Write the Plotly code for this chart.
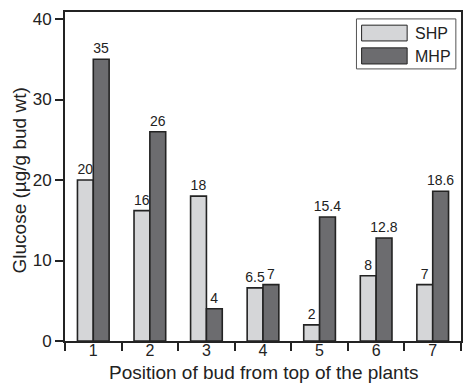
import plotly.graph_objects as go

positions = ["1", "2", "3", "4", "5", "6", "7"]
series_names = ["SHP", "MHP"]
shp_values = [20, 16.2, 18, 6.6, 2, 8.1, 7]
shp_labels = ["20", "16", "18", "6.5", "2", "8", "7"]
mhp_values = [35, 26, 4, 7, 15.4, 12.8, 18.6]
mhp_labels = ["35", "26", "4", "7", "15.4", "12.8", "18.6"]
y_ticks = [0, 10, 20, 30, 40]

FONT = "Liberation Sans, Arial, sans-serif"
LINE = "#232323"
COLORS = ["#d5d6d8", "#6c6c6f"]

fig = go.Figure()
for name, vals, labs, col in zip(series_names, [shp_values, mhp_values],
                                 [shp_labels, mhp_labels], COLORS):
    fig.add_bar(x=positions, y=vals, name=name, text=labs,
                textposition="outside", cliponaxis=False, constraintext="none",
                textfont=dict(size=14, color="#222"),
                marker=dict(color=col, line=dict(color=LINE, width=1.6)),
                showlegend=False)

fig.update_layout(
    width=465, height=385,
    margin=dict(l=65, r=2, t=12, b=44),
    paper_bgcolor="white", plot_bgcolor="white",
    barmode="group", bargap=0.44, bargroupgap=0,
    font=dict(family=FONT, color="#222"),
)
fig.update_xaxes(
    type="category", range=[-0.5, 6.5],
    showline=True, linecolor=LINE, linewidth=2, mirror=True,
    ticks="outside", tickson="boundaries", ticklen=8, tickwidth=1.5, tickcolor=LINE,
    tickfont=dict(size=16), ticklabelstandoff=-6, showgrid=False,
)
fig.update_yaxes(
    range=[0, 40.87], tickvals=y_ticks,
    showline=True, linecolor=LINE, linewidth=2, mirror=True,
    ticks="outside", ticklen=8, tickwidth=1.5, tickcolor=LINE,
    tickfont=dict(size=17), showgrid=False, zeroline=False,
)

# axis titles
fig.add_annotation(text="Position of bud from top of the plants", xref="paper", yref="paper",
                   x=0.5, y=0, xanchor="center", yanchor="bottom", yshift=-44,
                   showarrow=False, font=dict(size=19))
fig.add_annotation(text="Glucose (µg/g bud wt)", xref="paper", yref="paper",
                   x=0, y=0.5, xanchor="center", yanchor="middle", xshift=-46, yshift=-4,
                   textangle=-90, showarrow=False, font=dict(size=19))

# legend box with wide swatches
fig.add_shape(type="rect", xref="paper", yref="paper", x0=0.736, x1=0.987, y0=0.827, y1=0.979,
              line=dict(color="#555", width=1), fillcolor="white", layer="above")
sw_y = [(0.912, 0.960), (0.842, 0.891)]
txt_y = [0.936, 0.866]
for name, col, (y0, y1), ty in zip(series_names, COLORS, sw_y, txt_y):
    fig.add_shape(type="rect", xref="paper", yref="paper", x0=0.749, x1=0.864, y0=y0, y1=y1,
                  line=dict(color=LINE, width=1), fillcolor=col, layer="above")
    fig.add_annotation(text=name, xref="paper", yref="paper", x=0.879, y=ty,
                       xanchor="left", yanchor="middle", showarrow=False,
                       font=dict(size=16))

fig.write_html("out.html", config={"displayModeBar": False},
               post_script="document.body.style.margin='0px';")
